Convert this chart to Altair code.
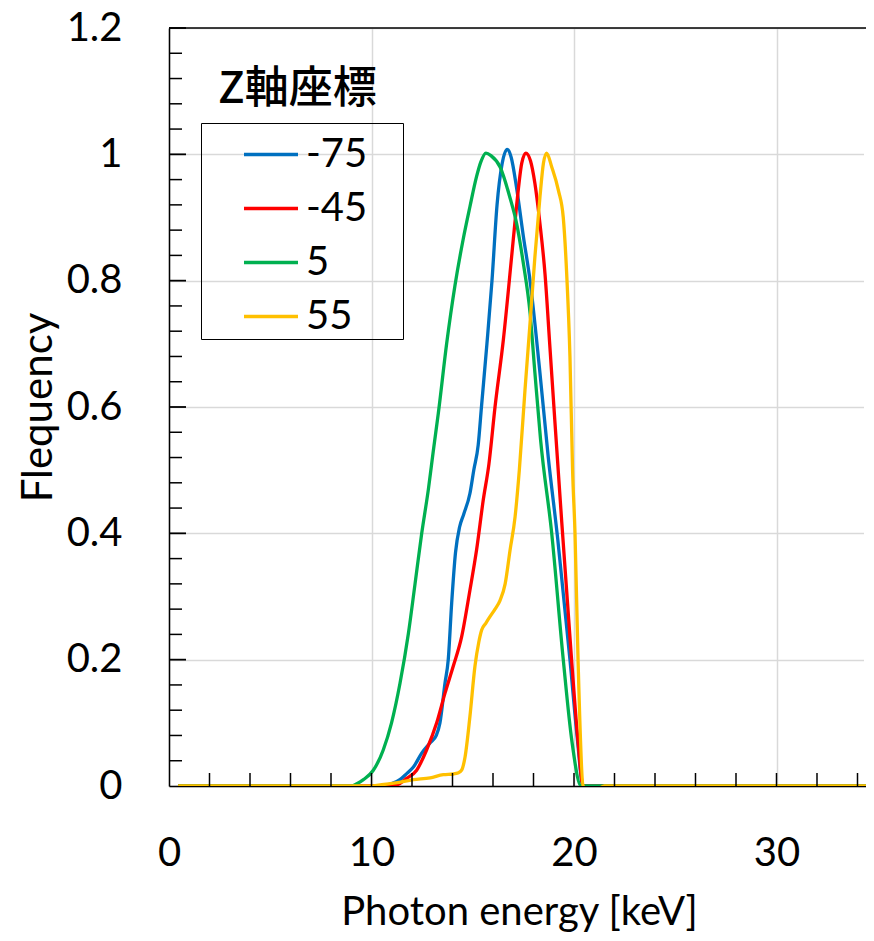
import altair as alt
import pandas as pd

# ---- data ----
SERIES = ["-75", "-45", "5", "55"]
COLORS = ["#0070C0", "#FF0000", "#00B050", "#FFC000"]

E_M75 = [0.45, 10.5, 11.0, 11.4, 11.75, 12.07, 12.48, 12.89, 13.2, 13.38, 13.63, 13.79, 13.96, 14.15,
         14.35, 14.55, 14.86, 15.05, 15.27, 15.43, 15.7, 15.95, 16.2, 16.45, 16.7, 16.9, 17.16, 17.5,
         17.83, 18.3, 18.73, 19.2, 19.8, 20.15, 20.45, 35.0]
F_M75 = [0, 0, 0.004, 0.01, 0.02, 0.03, 0.052, 0.068, 0.08, 0.10, 0.163, 0.2, 0.29, 0.37,
         0.41, 0.43, 0.463, 0.5, 0.54, 0.6, 0.70, 0.80, 0.92, 0.985, 1.008, 0.995, 0.948, 0.87,
         0.80, 0.66, 0.52, 0.39, 0.2, 0.08, 0, 0]

E_M45 = [0.45, 11.0, 11.4, 11.74, 12.23, 12.72, 13.22, 13.63, 14.04, 14.45, 14.86, 15.19, 15.52, 15.8,
         16.1, 16.51, 16.92, 17.16, 17.42, 17.62, 17.85, 18.07, 18.32, 18.57, 18.8, 19.05, 19.39,
         19.88, 20.2, 20.45, 35.0]
F_M45 = [0, 0, 0.004, 0.012, 0.025, 0.057, 0.10, 0.147, 0.19, 0.236, 0.31, 0.374, 0.453, 0.51,
         0.6, 0.706, 0.838, 0.917, 0.986, 1.002, 0.99, 0.954, 0.89, 0.81, 0.70, 0.58, 0.42,
         0.2, 0.07, 0, 0]

E_P5 = [0.45, 9.0, 9.3, 9.6, 10.09, 10.58, 10.99, 11.41, 11.82, 12.15, 12.48, 12.81, 13.05, 13.3,
        13.71, 14.12, 14.53, 14.86, 15.19, 15.4, 15.65, 15.9, 16.35, 16.85, 17.17, 17.5, 17.83,
        18.07, 18.35, 18.9, 19.47, 19.9, 20.35, 35.0]
F_P5 = [0, 0, 0.004, 0.01, 0.025, 0.057, 0.10, 0.163, 0.241, 0.32, 0.40, 0.47, 0.53, 0.59,
        0.70, 0.792, 0.866, 0.917, 0.965, 0.988, 1.002, 0.998, 0.98, 0.93, 0.89, 0.827, 0.749,
        0.654, 0.548, 0.4, 0.2, 0.07, 0, 0]

E_P55 = [0.45, 9.8, 10.5, 11.2, 12.07, 12.9, 13.55, 14.04, 14.3, 14.45, 14.62, 14.86, 15.11, 15.3,
         15.44, 15.65, 15.85, 16.1, 16.35, 16.6, 16.84, 17.09, 17.3, 17.58, 17.83, 18.07, 18.32,
         18.49, 18.65, 18.9, 19.23, 19.47, 19.64, 19.8, 19.93, 20.05, 20.2, 20.45, 20.6, 21.2,
         21.5, 35.0]
F_P55 = [0, 0, 0.002, 0.005, 0.01, 0.013, 0.018, 0.019, 0.021, 0.025, 0.046, 0.11, 0.19, 0.228,
         0.247, 0.258, 0.268, 0.28, 0.294, 0.32, 0.373, 0.426, 0.5, 0.627, 0.733, 0.838, 0.933,
         0.986, 1.002, 0.98, 0.943, 0.90, 0.81, 0.68, 0.5, 0.4, 0.2, 0, -0.004, -0.004,
         0, 0]

X_LABEL_TICKS = [0, 10, 20, 30]
X_MINOR_TICKS = [2, 4, 6, 8, 10, 12, 14, 16, 18, 20, 22, 24, 26, 28, 30, 32, 34]
Y_LABEL_TICKS = [0, 0.2, 0.4, 0.6, 0.8, 1.0, 1.2]
Y_MINOR_TICKS = [round(0.04 * i, 2) for i in range(1, 30) if i % 5 != 0]
Y_MAJOR_TICKS = [0.2, 0.4, 0.6, 0.8, 1.0, 1.2]

LEGEND_TITLE = "Z軸座標"
X_TITLE = "Photon energy [keV]"
Y_TITLE = "Flequency"

rows = []
for name, es, fs in zip(SERIES, [E_M75, E_M45, E_P5, E_P55], [F_M75, F_M45, F_P5, F_P55]):
    for e, f in zip(es, fs):
        rows.append({"series": name, "E": e, "F": f})
df = pd.DataFrame(rows)

PLOT_W = 697
PLOT_H = 758
X_MAX = PLOT_W / 20.25

FONT = "Lato"

xscale = alt.Scale(domain=[0, X_MAX], nice=False, zero=False)
yscale = alt.Scale(domain=[0, 1.2], nice=False)

main_x_axis = alt.Axis(
    orient="bottom", values=X_LABEL_TICKS, grid=True, gridColor="#d9d9d9", gridWidth=1.5,
    ticks=False, domain=True, domainColor="black", domainWidth=1.5,
    labelFont=FONT, labelFontSize=40, labelColor="black", labelBaseline="alphabetic",
    labelPadding=79, labelFlush=False, labelOverlap=False,
    title=X_TITLE, titleFont=FONT, titleFontSize=40, titleFontWeight="normal", titleColor="black",
    titleX=350, titleY=138, titleBaseline="alphabetic", titleAlign="center",
)
main_y_axis = alt.Axis(
    orient="left", values=Y_LABEL_TICKS, format="~g", grid=True, gridColor="#d9d9d9", gridWidth=1.5,
    ticks=False, domain=True, domainColor="black", domainWidth=1.5,
    labelFont=FONT, labelFontSize=40, labelColor="black", labelPadding=47,
    labelFlush=False, labelOverlap=False,
    title=Y_TITLE, titleFont=FONT, titleFontSize=42, titleFontWeight="normal", titleColor="black",
    titleX=-118, titleY=PLOT_H / 2, titleAngle=270, titleBaseline="alphabetic", titleAlign="center",
)

lines = alt.Chart(df).mark_line(strokeWidth=3.3, interpolate="monotone", clip=True).encode(
    x=alt.X("E:Q", scale=xscale, axis=main_x_axis),
    y=alt.Y("F:Q", scale=yscale, axis=main_y_axis),
    color=alt.Color(
        "series:N",
        scale=alt.Scale(domain=SERIES, range=COLORS),
        legend=alt.Legend(
            title="00", titleOrient="right", titleColor="transparent", titleFontSize=28,
            titleFont=FONT, titlePadding=0,
            orient="none", legendX=32, legendY=95,
            strokeColor="black", padding=2.5, symbolOffset=38.5,
            symbolType="stroke", symbolSize=2916, symbolStrokeWidth=3.5,
            labelFont=FONT, labelFontSize=40, labelColor="black", labelOffset=6,
            rowPadding=5,
        ),
    ),
    order=alt.Order("E:Q"),
)

# inward-pointing tick marks along the axes, placed through the shared scales
x_tick_df = pd.DataFrame({"E": X_MINOR_TICKS})
x_ticks = alt.Chart(x_tick_df).mark_rule(color="black", strokeWidth=1.5).encode(
    x=alt.X("E:Q", scale=xscale, axis=main_x_axis),
    y=alt.value(PLOT_H), y2=alt.value(PLOT_H - 13),
)
y_minor_df = pd.DataFrame({"F": Y_MINOR_TICKS})
y_minor = alt.Chart(y_minor_df).mark_rule(color="black", strokeWidth=1.5).encode(
    y=alt.Y("F:Q", scale=yscale, axis=main_y_axis),
    x=alt.value(0), x2=alt.value(13),
)
y_major_df = pd.DataFrame({"F": Y_MAJOR_TICKS})
y_major = alt.Chart(y_major_df).mark_rule(color="black", strokeWidth=1.8).encode(
    y=alt.Y("F:Q", scale=yscale, axis=main_y_axis),
    x=alt.value(0), x2=alt.value(17),
)
frame_df = pd.DataFrame({"k": [0]})
top_border = alt.Chart(frame_df).mark_rule(color="black", strokeWidth=1.5).encode(
    x=alt.value(0), x2=alt.value(PLOT_W), y=alt.value(0),
)
# the reference's plot frame continues past the picture's right edge: keep that edge open
right_edge_cover = alt.Chart(frame_df).mark_rule(color="white", strokeWidth=4).encode(
    x=alt.value(PLOT_W), y=alt.value(1), y2=alt.value(PLOT_H - 3),
)

title_text = alt.Chart(pd.DataFrame({"t": [LEGEND_TITLE]})).mark_text(
    align="left", baseline="alphabetic", font="Noto Sans CJK JP", fontSize=44,
    fontWeight=500, color="black"
).encode(x=alt.value(49), y=alt.value(75), text="t:N")

chart = alt.layer(lines, x_ticks, y_minor, y_major, top_border, right_edge_cover, title_text).properties(
    width=PLOT_W, height=PLOT_H,
    autosize=alt.AutoSizeParams(type="none"),
    padding={"left": 161, "top": 20, "right": 0, "bottom": 147},
    background="white",
).configure_view(stroke="transparent", strokeWidth=0)

chart.save("out.html", embed_options={"renderer": "svg", "actions": False})
